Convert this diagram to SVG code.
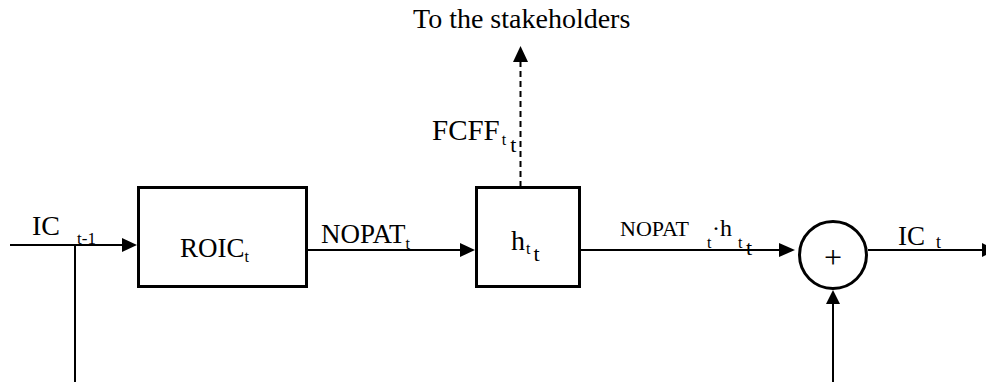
<svg xmlns="http://www.w3.org/2000/svg" width="986" height="382" viewBox="0 0 986 382">
<style>
text{font-family:"Liberation Serif","Times New Roman",serif;fill:#000}
.box{fill:#fff;stroke:#000;stroke-width:3}
.ln{fill:none;stroke:#000;stroke-width:2}
.dash{fill:none;stroke:#000;stroke-width:2;stroke-dasharray:6 4}
.ah{fill:#000;stroke:none}
</style>
<rect width="986" height="382" fill="#fff"/>
<g id="connectors">
<path class="ln" d="M10 245 H124"/>
<polygon class="ah" points="137,245 122,238 122,252"/>
<path class="ln" d="M75 245 V382"/>
<path class="ln" d="M307 250 H462"/>
<polygon class="ah" points="475,250 460,243 460,257"/>
<path class="ln" d="M580 250 H781"/>
<polygon class="ah" points="795,250 779,243 779,257"/>
<path class="ln" d="M868 250 H984"/>
<polygon class="ah" points="996,250 982,243 982,257"/>
<path class="ln" d="M833 382 V302"/>
<polygon class="ah" points="833,290 826,304 840,304"/>
<path class="dash" d="M520.5 187 V60"/>
<polygon class="ah" points="520.5,46 513,62 528,62"/>
</g>
<g id="roic">
<rect class="box" x="138.5" y="187.5" width="168" height="99"/>
<text x="180" y="256.5" font-size="27">ROIC<tspan font-size="16" dy="5">t</tspan></text>
</g>
<g id="h">
<rect class="box" x="476.5" y="187.5" width="103" height="99"/>
<text x="511" y="250" font-size="28">h<tspan font-size="16" dy="4" dx="1">t</tspan><tspan font-size="22" dy="7" dx="3">t</tspan></text>
</g>
<g id="sum">
<circle cx="833" cy="255" r="33.5" fill="#fff" stroke="#000" stroke-width="3"/>
<text x="833" y="268" font-size="32" text-anchor="middle">+</text>
</g>
<g id="labels">
<text x="413" y="28" font-size="28">To the stakeholders</text>
<text x="432" y="140" font-size="29">FCFF<tspan font-size="16" dy="5" dx="2">t</tspan><tspan font-size="22" dy="7" dx="4">t</tspan></text>
<text x="32" y="235" font-size="28">IC</text>
<text x="77" y="244" font-size="17">t-1</text>
<text x="321" y="243" font-size="27">NOPAT<tspan font-size="16" dy="6">t</tspan></text>
<text x="620" y="236" font-size="22">NOPAT</text>
<text x="707" y="248" font-size="16">t</text>
<text x="712" y="236" font-size="24">·h</text>
<text x="738" y="248" font-size="16">t</text>
<text x="746" y="255" font-size="22">t</text>
<text x="898" y="245" font-size="27">IC</text>
<text x="936" y="248" font-size="18">t</text>
</g>
</svg>
